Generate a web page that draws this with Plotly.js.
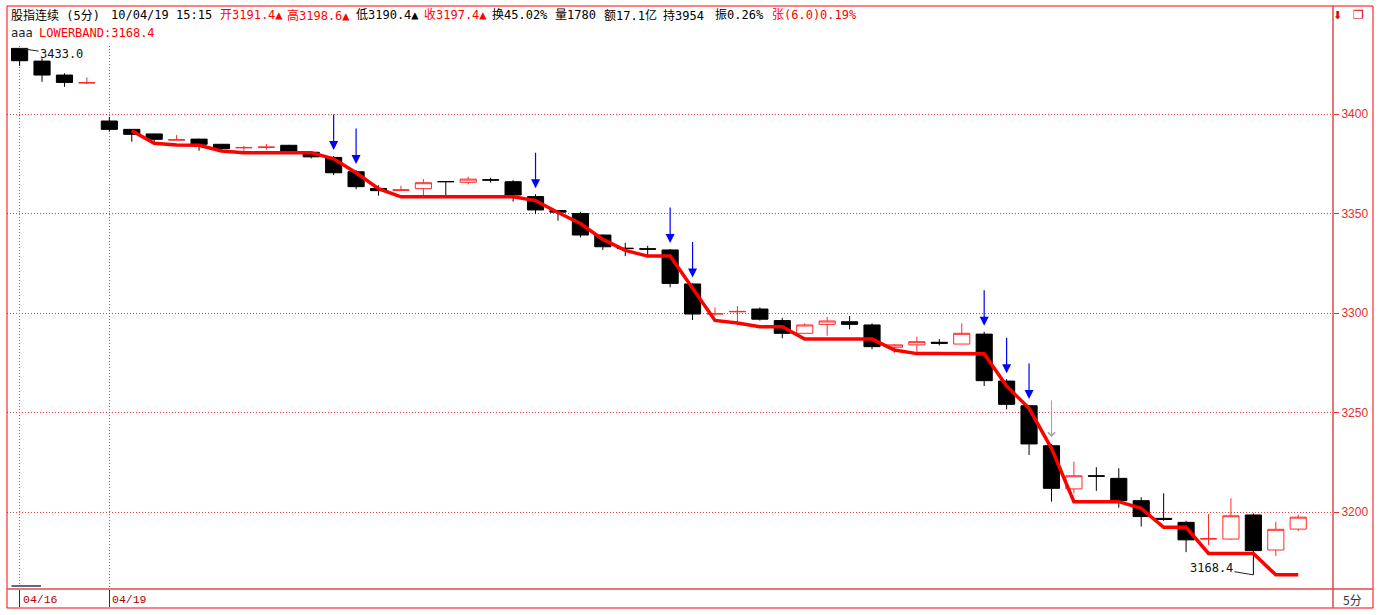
<!DOCTYPE html>
<html>
<head>
<meta charset="utf-8">
<script src="https://cdn.plot.ly/plotly-3.0.1.min.js"></script>
<style>html,body{margin:0;padding:0;background:#fff;}#chart{width:1378px;height:615px;}</style>
</head>
<body>
<div id="chart"></div>
<script>
// ---- data ----
var openP  = [3433.0,3426.6,3419.6,3415.6,3396.5,3392.3,3390.0,3386.9,3387.4,3384.8,
              3383.0,3383.2,3384.3,3380.8,3378.2,3371.0,3362.6,3361.6,3362.5,3366.1,
              3365.7,3367.0,3366.0,3358.5,3351.5,3350.0,3339.2,3332.6,3332.3,3331.7,
              3314.6,3299.5,3300.6,3302.0,3296.2,3289.8,3294.3,3295.6,3294.0,3282.8,
              3284.0,3285.3,3284.4,3289.4,3265.8,3253.4,3233.3,3211.6,3218.2,3216.9,
              3205.7,3196.8,3194.8,3186.4,3186.4,3198.5,3180.9,3191.4];
var highP  = [3433.0,3428.0,3420.5,3418.4,3398.6,3392.5,3390.2,3389.5,3387.6,3385.0,
              3384.0,3385.0,3384.5,3381.0,3378.9,3371.9,3364.2,3364.0,3367.3,3366.1,
              3368.5,3368.0,3366.8,3359.7,3351.8,3350.9,3339.5,3335.3,3333.8,3332.2,
              3314.9,3302.8,3303.5,3302.8,3297.6,3294.8,3298.1,3298.5,3294.8,3284.5,
              3288.1,3286.9,3294.8,3290.6,3266.7,3253.8,3234.2,3225.3,3222.5,3222.0,
              3207.4,3209.4,3195.6,3199.0,3206.9,3199.3,3195.1,3198.6];
var lowP   = [3424.1,3416.2,3413.7,3415.1,3391.1,3386.1,3385.0,3386.9,3381.6,3381.0,
              3381.0,3382.0,3380.7,3377.7,3369.3,3362.2,3359.0,3361.6,3359.3,3359.3,
              3364.7,3365.5,3356.0,3349.7,3346.4,3338.0,3331.7,3328.6,3328.0,3312.9,
              3296.5,3298.5,3294.0,3296.2,3287.3,3289.8,3288.6,3291.8,3281.8,3280.0,
              3279.7,3283.7,3284.4,3263.3,3251.6,3228.6,3205.2,3209.4,3210.6,3202.2,
              3192.7,3195.6,3179.8,3183.4,3186.0,3168.4,3177.9,3190.4];
var closeP = [3426.8,3419.6,3415.9,3415.8,3392.3,3389.8,3387.3,3387.1,3384.8,3382.6,
              3383.2,3383.4,3380.9,3378.5,3370.5,3363.5,3361.5,3361.9,3365.5,3366.0,
              3367.3,3366.8,3359.3,3351.8,3350.7,3339.2,3333.3,3332.4,3332.1,3314.9,
              3299.5,3299.7,3300.8,3296.9,3289.8,3294.0,3296.0,3294.3,3283.1,3284.0,
              3285.6,3284.8,3289.8,3266.0,3254.1,3234.2,3211.9,3218.2,3218.0,3205.7,
              3197.7,3196.3,3186.0,3186.6,3198.1,3180.6,3191.3,3197.4];
var lowerBand = [null,null,null,null,null,
              3391.6,3385.3,3384.4,3384.3,3381.4,3380.6,3380.6,3380.6,3380.6,3377.5,
              3370.5,3362.5,3358.4,3358.4,3358.4,3358.4,3358.4,3358.4,3356.5,3350.5,
              3345.0,3337.0,3331.5,3328.6,3328.6,3312.5,3296.3,3295.0,3293.1,3293.1,
              3286.9,3286.9,3286.9,3286.9,3281.4,3279.6,3279.6,3279.6,3279.5,3263.3,
              3252.1,3232.0,3205.2,3205.2,3205.2,3201.8,3192.3,3192.3,3179.2,3179.2,
              3179.2,3168.4,3168.4];
var sellSignals = [14,15,23,29,30,43,44,45];
var weakSignals = [46];
var dayTickIdx = [0,4];
var dayTickText = ['04/16','04/19'];
var yTicks = [3200,3250,3300,3350,3400];
var headerParts = [
  {t:'股指连续 (5分)', c:'#000', px:9},
  {t:'10/04/19 15:15', c:'#000', px:109},
  {t:'开3191.4▲', c:'#ff0000', px:218},
  {t:'高3198.6▲', c:'#ff0000', px:285},
  {t:'低3190.4▲', c:'#000', px:354},
  {t:'收3197.4▲', c:'#ff0000', px:422},
  {t:'换45.02%', c:'#000', px:490},
  {t:'量1780', c:'#000', px:553},
  {t:'额17.1亿', c:'#000', px:602},
  {t:'持3954', c:'#000', px:661},
  {t:'振0.26%', c:'#000', px:713},
  {t:'张(6.0)0.19%', c:'#ff0000', px:770}
];
var indicatorName = 'aaa';
var indicatorText = 'LOWERBAND:3168.4';

// ---- geometry helpers (paper coords) ----
var W = 1378, H = 615, ML = 7, MR = 45, MT = 46, MB = 26;
var PW = W - ML - MR, PH = H - MT - MB;
function px2x(px){ return (px - ML) / PW; }
function py2y(py){ return (H - MB - py) / PH; }

var idx = openP.map(function(_, i){ return i; });

var traces = [
  {
    type:'candlestick', x: idx, open: openP, high: highP, low: lowP, close: closeP,
    increasing:{line:{color:'#ff2a2a', width:1}, fillcolor:'#ffffff'},
    decreasing:{line:{color:'#000000', width:1}, fillcolor:'#000000'},
    whiskerwidth:0, hoverinfo:'skip', showlegend:false
  },
  {
    type:'scatter', mode:'lines', x: idx, y: lowerBand,
    line:{color:'#ff0000', width:3.5}, hoverinfo:'skip', showlegend:false
  }
];

var MONO = 'DejaVu Sans Mono, Noto Sans CJK SC, monospace';
var annotations = [];
headerParts.forEach(function(p){
  annotations.push({xref:'paper', yref:'paper', x:px2x(p.px), y:py2y(15), xanchor:'left', yanchor:'middle',
    text:p.t, showarrow:false, font:{family:MONO, size:12, color:p.c}});
});
annotations.push({xref:'paper', yref:'paper', x:px2x(9), y:py2y(33), xanchor:'left', yanchor:'middle',
  text:indicatorName, showarrow:false, font:{family:MONO, size:12, color:'#222'}});
annotations.push({xref:'paper', yref:'paper', x:px2x(37), y:py2y(33), xanchor:'left', yanchor:'middle',
  text:indicatorText, showarrow:false, font:{family:MONO, size:12, color:'#ff0000'}});
// top-right icons
annotations.push({xref:'paper', yref:'paper', x:px2x(1337), y:py2y(15), xanchor:'center', yanchor:'middle',
  text:'⬇', showarrow:false, font:{family:'DejaVu Sans', size:11, color:'#e00000'}});
annotations.push({xref:'paper', yref:'paper', x:px2x(1358), y:py2y(15), xanchor:'center', yanchor:'middle',
  text:'❐', showarrow:false, font:{family:'DejaVu Sans', size:12, color:'#e00000'}});
// x day labels
dayTickIdx.forEach(function(v, k){
  annotations.push({xref:'x', yref:'paper', x:v, y:py2y(599), xanchor:'left', yanchor:'middle', xshift:1,
    text:dayTickText[k], showarrow:false, font:{family:'Liberation Mono, monospace', size:11.5, color:'#b00000'}});
});
annotations.push({xref:'paper', yref:'paper', x:px2x(1341), y:py2y(599), xanchor:'left', yanchor:'middle',
  text:'5分', showarrow:false, font:{family:'Noto Sans CJK SC', size:12, color:'#333'}});
// max / min labels
var maxH = Math.max.apply(null, highP), iMax = highP.indexOf(maxH);
var minL = Math.min.apply(null, lowP), iMin = lowP.indexOf(minL);
annotations.push({xref:'x', yref:'y', x:iMax, y:maxH, text:maxH.toFixed(1), showarrow:true,
  arrowhead:0, arrowwidth:1, arrowcolor:'#222', ax:42, ay:6, font:{family:MONO, size:12, color:'#111'}});
annotations.push({xref:'x', yref:'y', x:iMin, y:minL, text:minL.toFixed(1), showarrow:true,
  arrowhead:0, arrowwidth:1, arrowcolor:'#222', ax:-42, ay:-7, font:{family:MONO, size:12, color:'#111'}});
// signal arrows
sellSignals.forEach(function(i){
  annotations.push({xref:'x', yref:'y', x:i, y:highP[i], text:'', showarrow:true,
    arrowhead:2, arrowsize:1.5, arrowwidth:1.2, arrowcolor:'#0000ff', ax:0, ay:-43, standoff:6});
});
weakSignals.forEach(function(i){
  annotations.push({xref:'x', yref:'y', x:i, y:highP[i], text:'', showarrow:true,
    arrowhead:4, arrowsize:1.4, arrowwidth:1, arrowcolor:'#a0a0a0', ax:0, ay:-45, standoff:7});
});

var shapes = [
  {type:'rect', xref:'paper', yref:'paper', x0:0, x1:px2x(1373), y0:py2y(608), y1:py2y(6),
    line:{color:'#ff0000', width:1}, fillcolor:'rgba(0,0,0,0)'},
  {type:'line', xref:'paper', yref:'paper', x0:1, x1:1, y0:py2y(608), y1:py2y(6),
    line:{color:'#e04848', width:1.5}},
  {type:'line', xref:'paper', yref:'paper', x0:0, x1:px2x(1373), y0:0, y1:0,
    line:{color:'#e04848', width:1.5}},
  {type:'line', xref:'paper', yref:'paper', x0:px2x(11.5), x1:px2x(41), y0:py2y(586), y1:py2y(586),
    line:{color:'#5a6a8a', width:2}}
];

var layout = {
  width:W, height:H,
  margin:{l:ML, r:MR, t:MT, b:MB, pad:0},
  paper_bgcolor:'#ffffff', plot_bgcolor:'#ffffff',
  showlegend:false,
  boxgap:0.28, boxgroupgap:0,
  font:{family:'Liberation Sans, Arial, sans-serif', size:12, color:'#000'},
  xaxis:{
    range:[-0.5618, 58.55], tickmode:'array', tickvals:dayTickIdx, showticklabels:false,
    ticks:'outside', ticklen:17, tickcolor:'#a00000', tickwidth:1.5,
    showgrid:true, gridcolor:'#e04040', griddash:'1px,2px', gridwidth:1,
    zeroline:false, showline:false, rangeslider:{visible:false}, fixedrange:true
  },
  yaxis:{
    side:'right', range:[3161.3, 3434.2], tickmode:'array', tickvals:yTicks,
    ticks:'outside', ticklen:5, tickcolor:'#e03030', tickwidth:1,
    showgrid:true, gridcolor:'#e04040', griddash:'1px,2px', gridwidth:1,
    tickfont:{family:'Liberation Sans, Arial, sans-serif', size:12, color:'#e03030'},
    zeroline:false, showline:false, fixedrange:true
  },
  annotations:annotations,
  shapes:shapes
};

Plotly.newPlot('chart', traces, layout, {staticPlot:true, displayModeBar:false});
</script>
</body>
</html>
